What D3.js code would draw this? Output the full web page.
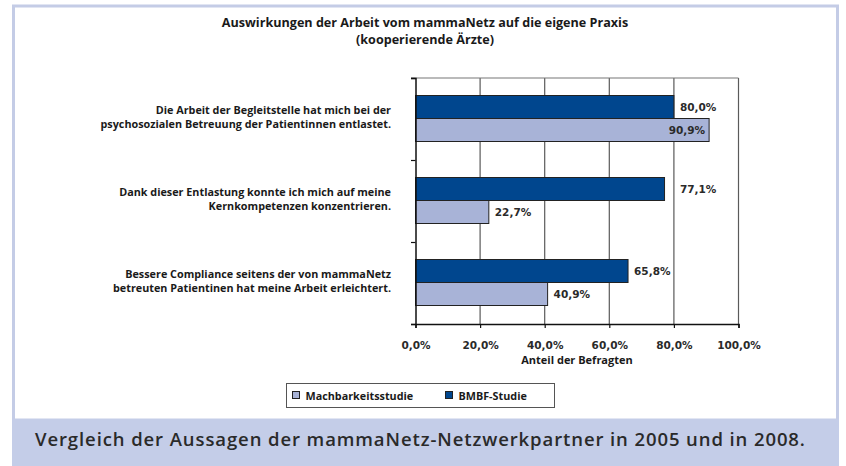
<!DOCTYPE html>
<html>
<head>
<meta charset="utf-8">
<script src="https://cdn.jsdelivr.net/npm/d3@7"></script>
<style>
  body { margin: 0; background: #fff; }
  svg { display: block; }
</style>
</head>
<body>
<svg width="846" height="466"></svg>
<script>
// data
var categories = [
  ["Die Arbeit der Begleitstelle hat mich bei der", "psychosozialen Betreuung der Patientinnen entlastet."],
  ["Dank dieser Entlastung konnte ich mich auf meine", "Kernkompetenzen konzentrieren."],
  ["Bessere Compliance seitens der von mammaNetz", "betreuten Patientinen hat meine Arbeit erleichtert."]
];
var seriesNames = ["BMBF-Studie", "Machbarkeitsstudie"];
var bmbf = [0.800, 0.771, 0.658];
var machbarkeit = [0.909, 0.227, 0.409];
var xTicks = [0, 0.2, 0.4, 0.6, 0.8, 1.0];
var title = ["Auswirkungen der Arbeit vom mammaNetz auf die eigene Praxis", "(kooperierende Ärzte)"];
var xTitle = "Anteil der Befragten";
var caption = "Vergleich der Aussagen der mammaNetz-Netzwerkpartner in 2005 und in 2008.";

var colors = { "BMBF-Studie": "#00468e", "Machbarkeitsstudie": "#a8b3d7" };
var labelFont = "'Open Sans', 'Noto Sans', sans-serif";
var numFont = "'DejaVu Sans', Verdana, sans-serif";

var de = d3.formatLocale({ decimal: ",", thousands: ".", grouping: [3], currency: ["", " €"] });
var pct = de.format(".1%");

var svg = d3.select("svg");

// frame + caption band
svg.append("rect").attr("x", 13.5).attr("y", 6).attr("width", 824).attr("height", 414)
  .attr("fill", "#fff").attr("stroke", "#c4cce6").attr("stroke-width", 3);
svg.append("rect").attr("x", 12).attr("y", 419).attr("width", 827).attr("height", 47)
  .attr("fill", "#c4cde8");
svg.append("text").attr("x", 35).attr("y", 446)
  .attr("font-family", labelFont).attr("font-size", 18.5).attr("font-weight", 600)
  .attr("letter-spacing", 0.9)
  .attr("fill", "#2a2a2a").text(caption);

// title
svg.append("g").selectAll("text").data(title).join("text")
  .attr("x", 425).attr("y", function(d, i) { return 27 + i * 17; })
  .attr("text-anchor", "middle")
  .attr("font-family", labelFont).attr("font-size", 12.6).attr("font-weight", 700)
  .attr("fill", "#1a1a1a").text(function(d) { return d; });

// scales
var x = d3.scaleLinear().domain([0, 1]).range([415.5, 738.5]);
var y = d3.scaleBand().domain(d3.range(categories.length)).range([78, 324]);
var yInner = d3.scaleBand().domain(seriesNames).range([17.5, 63.5]);

var plot = svg.append("g");

// gridlines
plot.selectAll("line.grid").data(xTicks.slice(1)).join("line")
  .attr("class", "grid")
  .attr("x1", function(d) { return x(d); }).attr("x2", function(d) { return x(d); })
  .attr("y1", 78).attr("y2", 324)
  .attr("stroke", "#5a5a5a").attr("stroke-width", 1.2);
plot.append("line").attr("x1", 411).attr("x2", x(1)).attr("y1", 78).attr("y2", 78)
  .attr("stroke", "#777").attr("stroke-width", 1.2);

// bars
var rows = [];
categories.forEach(function(c, i) {
  rows.push({ cat: i, s: "BMBF-Studie", v: bmbf[i] });
  rows.push({ cat: i, s: "Machbarkeitsstudie", v: machbarkeit[i] });
});

plot.selectAll("rect.bar").data(rows).join("rect")
  .attr("class", "bar")
  .attr("x", x(0))
  .attr("y", function(d) { return y(d.cat) + yInner(d.s); })
  .attr("width", function(d) { return x(d.v) - x(0); })
  .attr("height", yInner.bandwidth())
  .attr("fill", function(d) { return colors[d.s]; })
  .attr("stroke", "#222").attr("stroke-width", 1);

// value labels
plot.selectAll("text.val").data(rows).join("text")
  .attr("class", "val")
  .attr("x", function(d) {
    if (d.v > 0.9) return x(d.v) - 4;
    if (d.cat == 1 && d.s == "BMBF-Studie") return x(0.8) + 6; // label moved in original
    return x(d.v) + 6;
  })
  .attr("y", function(d) { return y(d.cat) + yInner(d.s) + yInner.bandwidth() / 2 + 4; })
  .attr("text-anchor", function(d) { return d.v > 0.9 ? "end" : "start"; })
  .attr("font-family", numFont).attr("font-size", 10.5).attr("font-weight", 700)
  .attr("fill", "#2a2a2a").text(function(d) { return pct(d.v); });

// y axis (category boundaries)
var yAxis = d3.axisLeft(d3.scaleLinear().domain([0, 3]).range([78, 324]))
  .tickValues([0, 1, 2, 3]).tickSize(4.5).tickFormat("");
plot.append("g").attr("transform", "translate(" + x(0) + ",0)").call(yAxis)
  .call(function(g) {
    g.select(".domain").attr("stroke", "#111").attr("stroke-width", 1.5);
    g.selectAll(".tick line").attr("stroke", "#111").attr("stroke-width", 1.2);
  });

// x axis
var xAxis = d3.axisBottom(x).tickValues(xTicks).tickSize(4).tickPadding(14)
  .tickFormat(pct);
plot.append("g").attr("transform", "translate(0,324)").call(xAxis)
  .call(function(g) {
    g.select(".domain").attr("stroke", "#111").attr("stroke-width", 1.5);
    g.selectAll(".tick line").attr("stroke", "#111").attr("stroke-width", 1.2);
    g.selectAll(".tick text").attr("font-family", numFont).attr("font-size", 10.5)
      .attr("font-weight", 700).attr("fill", "#2a2a2a");
  });

svg.append("text").attr("x", x(0.5)).attr("y", 364).attr("text-anchor", "middle")
  .attr("font-family", labelFont).attr("font-size", 11).attr("font-weight", 700)
  .attr("fill", "#1a1a1a").text(xTitle);

// category labels, one text per line
var labLines = [];
categories.forEach(function(c, i) {
  c.forEach(function(t, j) { labLines.push({ t: t, i: i, j: j }); });
});
svg.append("g").selectAll("text").data(labLines).join("text")
  .attr("x", 391)
  .attr("y", function(d) { return y(d.i) + 36 + d.j * 13.5; })
  .attr("text-anchor", "end")
  .attr("font-family", labelFont).attr("font-size", 10.8).attr("font-weight", 700)
  .attr("fill", "#1a1a1a")
  .text(function(d) { return d.t; });

// legend
var leg = svg.append("g");
leg.append("rect").attr("x", 286.5).attr("y", 383.5).attr("width", 268).attr("height", 24)
  .attr("fill", "#fff").attr("stroke", "#555").attr("stroke-width", 1);
var legItems = [
  { s: "Machbarkeitsstudie", x: 292.5 },
  { s: "BMBF-Studie", x: 445.5 }
];
legItems.forEach(function(d) {
  leg.append("rect").attr("x", d.x).attr("y", 391.5).attr("width", 7).attr("height", 7)
    .attr("fill", colors[d.s]).attr("stroke", "#222").attr("stroke-width", 1);
  leg.append("text").attr("x", d.x + 13).attr("y", 399.5)
    .attr("font-family", labelFont).attr("font-size", 10.8).attr("font-weight", 700)
    .attr("fill", "#1a1a1a").text(d.s);
});
</script>
</body>
</html>
